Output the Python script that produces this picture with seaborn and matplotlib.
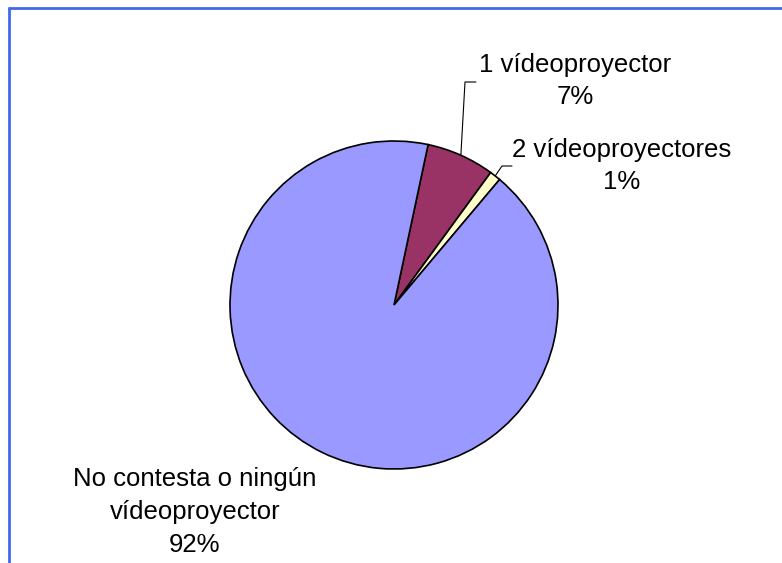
import numpy as np
import seaborn as sns
import matplotlib.pyplot as plt

# Data
labels = ["1 vídeoproyector", "2 vídeoproyectores", "No contesta o ningún\nvídeoproyector"]
values = [6.7, 1.1, 92.2]
pct_text = ["7%", "1%", "92%"]
colors = ["#993366", "#FFFFCC", "#9999FF"]

sns.set_style("white")
plt.rcParams['font.family'] = ['Liberation Sans', 'DejaVu Sans']

W, H = 782, 563
fig = plt.figure(figsize=(W / 100, H / 100), dpi=100)
ax = fig.add_axes([0, 0, 1, 1])

cx, cy, r = 394, H - 305, 164
start = 78
wedges, _ = ax.pie(values, colors=colors, startangle=start, counterclock=False,
                   center=(cx, cy), radius=r, frame=True,
                   wedgeprops=dict(edgecolor="black", linewidth=1.2))
ax.set_xlim(0, W)
ax.set_ylim(0, H)
ax.axis("off")

# label positions (pixel coords, top-left origin)
text_pos = [(575, 81), (622, 166), (195, 512)]
elbows = [((465, 82), (476, 82)), ((502, 166), (512, 166)), None]

for w, lab, pct, (tx, ty), elb in zip(wedges, labels, pct_text, text_pos, elbows):
    ax.text(tx, H - ty, lab + "\n" + pct, ha="center", va="center",
            fontsize=18.5, linespacing=1.45, color="black")
    if elb is not None:
        mid = np.deg2rad((w.theta1 + w.theta2) / 2)
        x0, y0 = cx + r * np.cos(mid), cy + r * np.sin(mid)
        (ex, ey), (fx, fy) = elb
        ax.plot([x0, ex, fx], [y0, H - ey, H - fy], color="black", lw=0.8)

# frame edges (left and top only)
fig.add_artist(plt.Line2D([8.5 / W, 8.5 / W], [0, 1 - 7.5 / H], color="#4169F0", lw=2))
fig.add_artist(plt.Line2D([8.5 / W, 1], [1 - 7.5 / H, 1 - 7.5 / H], color="#4169F0", lw=2))

fig.savefig("out.png", dpi=100)
